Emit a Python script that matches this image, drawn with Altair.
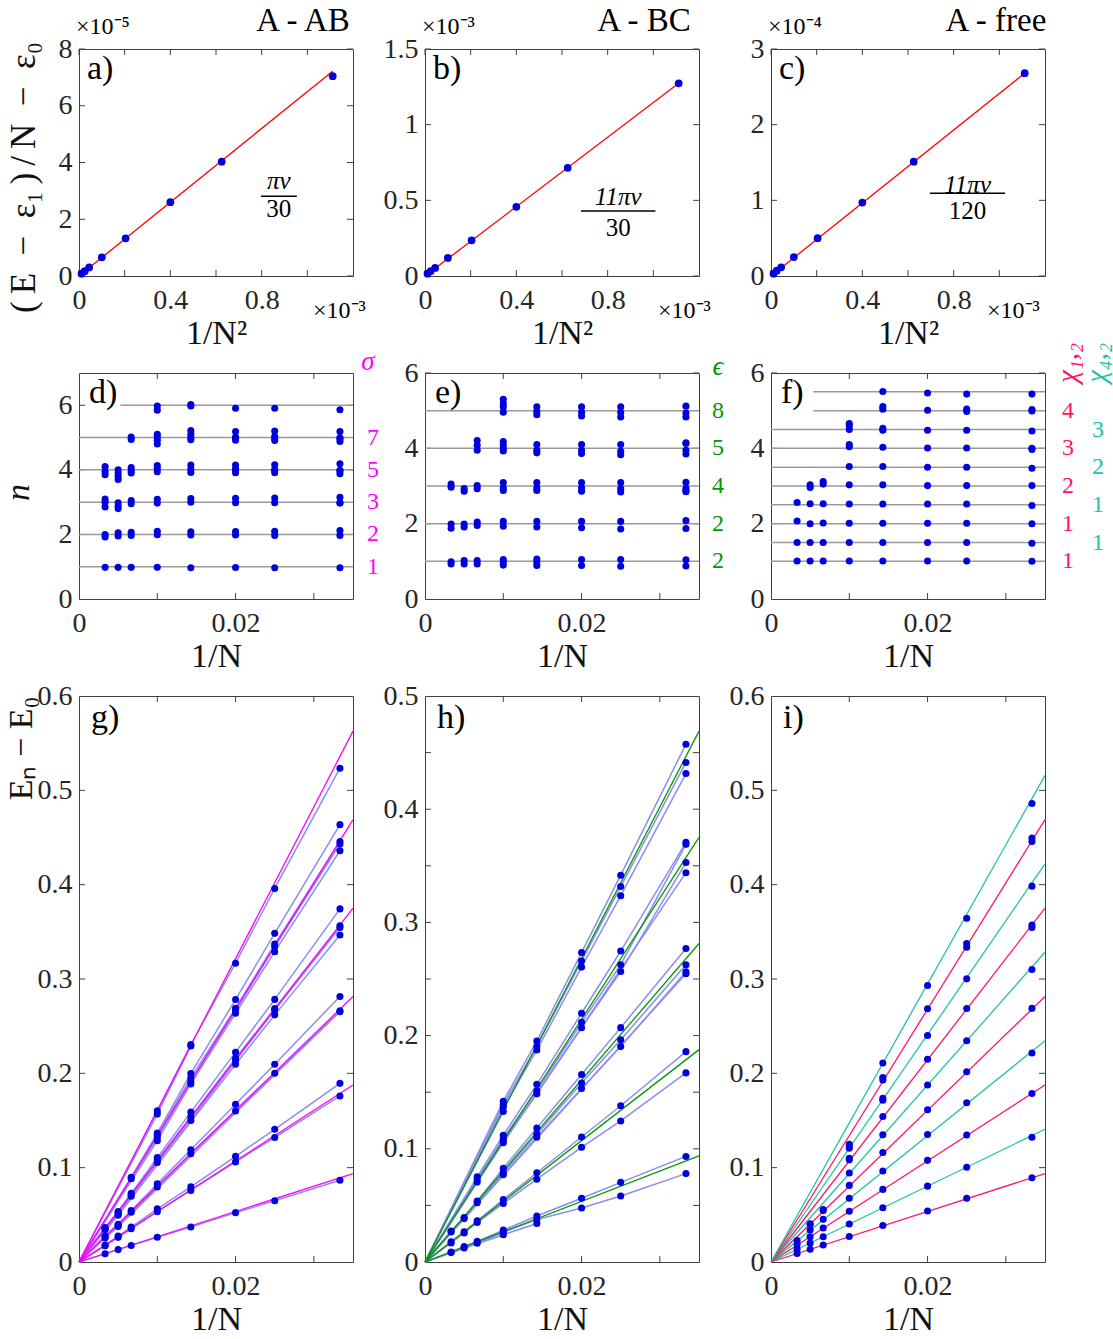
import altair as alt
import pandas as pd

FONT = "Liberation Serif"
BLUE = "#0000DD"
LIGHT = "#8C8CF2"
RED = "#FF0000"
MAGENTA = "#FF00FF"
GREEN = "#009A00"
PINK = "#FF1463"
TEAL = "#20C4A0"
GRAY = "#9a9a9a"
AX = "#404040"

W = 274
H_TOP = 227
H_MID = 226
H_BOT = 566

# system sizes; x of middle/bottom rows is 1/N, top row is 1/N^2 (in units of 1e-3)
N_VALUES = [300, 200, 150, 100, 70, 50, 40, 30]

# ---- top row: (E - eps1)/N - eps0 ----
TOP_A_Y = [0.08, 0.17, 0.30, 0.66, 1.33, 2.60, 4.03, 7.04]      # x1e-5
TOP_A_FIT = [0.0, 7.22]
TOP_B_Y = [0.015, 0.033, 0.053, 0.119, 0.236, 0.457, 0.715, 1.273]  # x1e-3
TOP_B_FIT = [0.0, 1.273]
TOP_C_Y = [0.03, 0.07, 0.115, 0.25, 0.50, 0.97, 1.51, 2.68]     # x1e-4
TOP_C_FIT = [0.0, 2.68]
FIT_X = [0.0, 1.111]

# ---- middle row: n levels per N ----
D_N = {
    300: [0.98, 1.92, 2.00, 2.85, 3.00, 3.10, 3.85, 3.95, 4.10],
    200: [0.98, 1.95, 2.05, 2.80, 2.88, 2.98, 3.70, 3.80, 3.90, 4.00],
    150: [0.98, 1.97, 2.07, 2.95, 3.05, 3.90, 3.97, 4.07, 4.94, 5.02],
    100: [0.98, 1.99, 2.10, 2.97, 3.09, 3.94, 4.04, 4.13, 4.80, 4.92, 5.02, 5.10, 5.85, 5.98],
    70: [0.97, 1.98, 2.08, 3.00, 3.11, 3.92, 4.02, 4.15, 4.93, 5.00, 5.10, 5.22, 5.98, 6.02],
    50: [0.976, 1.98, 2.09, 2.985, 3.12, 3.91, 3.99, 4.03, 4.15, 4.92, 4.98, 5.02, 5.19, 5.91],
    40: [0.97, 1.97, 2.10, 2.985, 3.13, 3.91, 3.985, 4.01, 4.155, 4.91, 4.99, 5.03, 5.20, 5.91],
    30: [0.97, 1.97, 2.12, 2.97, 2.98, 3.15, 3.88, 3.97, 3.99, 4.19, 4.88, 4.96, 4.99, 5.19, 5.86],
}
E_N = {
    300: [0.93, 0.99, 1.88, 1.99, 2.97, 3.05],
    200: [0.93, 1.02, 1.91, 1.99, 2.86, 2.93],
    150: [0.93, 1.02, 1.95, 2.04, 2.93, 3.01, 3.95, 4.08, 4.21],
    100: [0.90, 0.98, 1.05, 1.93, 2.06, 2.88, 2.95, 3.09, 3.93, 3.99, 4.08, 4.18, 4.96, 5.10, 5.19, 5.30],
    70: [0.89, 0.98, 1.06, 1.91, 2.06, 2.88, 2.95, 3.09, 3.88, 3.95, 4.10, 4.89, 4.98, 5.10],
    50: [0.89, 1.05, 1.89, 2.06, 2.86, 2.95, 3.09, 3.86, 3.95, 4.10, 4.86, 4.96, 5.10],
    40: [0.87, 1.05, 1.86, 2.06, 2.84, 2.93, 3.09, 3.83, 3.92, 4.10, 4.83, 4.95, 5.10],
    30: [0.874, 1.044, 1.87, 2.08, 2.85, 2.87, 2.94, 3.10, 3.85, 3.95, 4.13, 4.15, 4.83, 4.94, 5.12],
}
F_N = {
    300: [1.01, 1.50, 2.07, 2.56],
    200: [1.01, 1.50, 2.00, 2.53, 2.96, 3.03],
    150: [1.01, 1.50, 2.02, 2.53, 3.05, 3.12],
    100: [1.01, 1.50, 2.01, 2.52, 3.03, 3.52, 4.04, 4.10, 4.50, 4.59, 4.66],
    70: [1.01, 1.50, 2.01, 2.52, 3.03, 3.52, 4.03, 4.48, 4.53, 5.04, 5.11, 5.51],
    50: [1.01, 1.50, 2.01, 2.52, 3.01, 3.50, 4.01, 4.48, 5.01, 5.47],
    40: [1.01, 1.50, 2.01, 2.52, 3.01, 3.50, 4.01, 4.48, 4.98, 5.04, 5.44],
    30: [1.00, 1.48, 2.00, 2.48, 3.01, 3.47, 3.97, 4.00, 4.46, 4.99, 5.03, 5.44],
}

# horizontal guide levels (middle row) and where each guide starts (1/N)
D_LEVELS = [1, 2, 3, 4, 5, 6]
D_START = [0, 0, 0, 0, 0, 0.0053]
E_LEVELS = [1, 2, 3, 4, 5]
E_START = [0, 0, 0, 0, 0]
F_LEVELS = [1, 1.5, 2, 2.5, 3, 3.5, 4, 4.5, 5, 5.5]
F_START = [0, 0, 0, 0, 0, 0, 0, 0, 0.0054, 0.0054]

# degeneracy labels at the right of the middle row
D_DEG = ["1", "2", "3", "5", "7"]
E_DEG = ["2", "2", "4", "5", "8"]
F_DEG_PINK = ["1", "1", "2", "3", "4"]
F_PINK_LEVELS = [1, 2, 3, 4, 5]
F_DEG_TEAL = ["1", "1", "2", "3"]
F_TEAL_LEVELS = [1.5, 2.5, 3.5, 4.5]

# slope of the n = 1 reference line in the bottom row: E = n * UNIT / N
UNIT = 2.68
G_LEVELS = [1, 2, 3, 4, 5, 6]
H_LEVELS = [1, 2, 3, 4, 5]
I_LEVELS = [1, 1.5, 2, 2.5, 3, 3.5, 4, 4.5, 5, 5.5]
X_END = 0.035


def txt(s, x, y, size, color="black", align="left", baseline="middle", angle=0, style="normal"):
    return alt.Chart(pd.DataFrame({"s": [s]})).mark_text(
        font=FONT, fontSize=size, color=color, align=align, baseline=baseline,
        angle=angle, fontStyle=style).encode(text="s:N", x=alt.value(x), y=alt.value(y))


class Panel:
    def __init__(self, xdom, ydom, xlabels, ylabels, xtitle, ytitle="", ytitle_kw=None):
        self.xs = alt.Scale(domain=xdom, nice=False)
        self.ys = alt.Scale(domain=ydom, nice=False)
        self.xa = alt.Axis(values=xlabels, format="~g", title=xtitle, labelFlush=False)
        if ytitle:
            self.ya = alt.Axis(values=ylabels, format="~g", title=ytitle, titleAngle=270,
                               titleAlign="center", titleBaseline="middle", **(ytitle_kw or {}))
        else:
            self.ya = alt.Axis(values=ylabels, format="~g", title="")

    def X(self, f):
        return alt.X(f, scale=self.xs, axis=self.xa)

    def Y(self, f):
        return alt.Y(f, scale=self.ys, axis=self.ya)

    def ticks(self, xticks, yticks, w, h):
        L = 6
        tx = pd.DataFrame({"t": xticks})
        ty = pd.DataFrame({"t": yticks})
        return [
            alt.Chart(tx).mark_rule(color=AX, strokeWidth=1).encode(
                x=self.X("t:Q"), y=alt.value(h), y2=alt.value(h - L)),
            alt.Chart(tx).mark_rule(color=AX, strokeWidth=1).encode(
                x=self.X("t:Q"), y=alt.value(0), y2=alt.value(L)),
            alt.Chart(ty).mark_rule(color=AX, strokeWidth=1).encode(
                y=self.Y("t:Q"), x=alt.value(0), x2=alt.value(L)),
            alt.Chart(ty).mark_rule(color=AX, strokeWidth=1).encode(
                y=self.Y("t:Q"), x=alt.value(w - L), x2=alt.value(w)),
        ]


# ---------------- top row ----------------
def top_panel(ys_vals, fit, ydom, ylabels, label, title, title_x, top_exp, num, den, frac,
              right_exp_x, ytitle=""):
    P = Panel([0, 1.2], ydom, [0, 0.4, 0.8], ylabels, "1/N²", ytitle,
              {"titleX": -56, "titleY": 128, "titleFontSize": 35})
    df = pd.DataFrame({"x": [1000 / n ** 2 for n in N_VALUES], "y": ys_vals})
    fitdf = pd.DataFrame({"x": FIT_X, "y": fit})
    fx, fy_num, fy_bar, fy_den, fx0, fx1 = frac
    layers = P.ticks([0, 0.2, 0.4, 0.6, 0.8, 1.0], ylabels, W, H_TOP)
    layers += [
        alt.Chart(fitdf).mark_line(color=RED, strokeWidth=1.3).encode(x=P.X("x:Q"), y=P.Y("y:Q")),
        alt.Chart(df).mark_circle(size=60, color=BLUE, opacity=1).encode(x=P.X("x:Q"), y=P.Y("y:Q")),
        alt.Chart(pd.DataFrame({"s": [num], "x": [fx], "y": [fy_num]})).mark_text(
            font=FONT, fontSize=25, fontStyle="italic", baseline="middle").encode(
            text="s:N", x=P.X("x:Q"), y=P.Y("y:Q")),
        alt.Chart(pd.DataFrame({"s": [den], "x": [fx], "y": [fy_den]})).mark_text(
            font=FONT, fontSize=25, baseline="middle").encode(
            text="s:N", x=P.X("x:Q"), y=P.Y("y:Q")),
        alt.Chart(pd.DataFrame({"x": [fx0], "x2": [fx1], "y": [fy_bar]})).mark_rule(
            color="black", strokeWidth=1.5).encode(x=P.X("x:Q"), x2="x2:Q", y=P.Y("y:Q")),
        txt(label, 8, 20, 34),
        txt(title, title_x, -28, 33, align="center"),
        txt(top_exp, -3, -22, 24),
        txt("×10⁻³", right_exp_x, 262, 24),
    ]
    return alt.layer(*layers).properties(width=W, height=H_TOP)


YTITLE_A = "(\u2009E\u2002−\u2002ε₁\u2009)\u2009/\u2009N\u2002−\u2002ε₀"
pa = top_panel(TOP_A_Y, TOP_A_FIT, [0, 8], [0, 2, 4, 6, 8], "a)", "A - AB", 224, "×10⁻⁵",
               "πv", "30", (0.875, 3.34, 2.81, 2.35, 0.797, 0.954), 234,
               ytitle=YTITLE_A)
pb = top_panel(TOP_B_Y, TOP_B_FIT, [0, 1.5], [0, 0.5, 1, 1.5], "b)", "A - BC", 219, "×10⁻³",
               "11πv", "30", (0.846, 0.522, 0.43, 0.317, 0.683, 1.009), 233)
pc = top_panel(TOP_C_Y, TOP_C_FIT, [0, 3], [0, 1, 2, 3], "c)", "A - free", 225, "×10⁻⁴",
               "11πv", "120", (0.861, 1.2, 1.093, 0.859, 0.696, 1.025), 216)


# ---------------- middle row ----------------
def mid_panel(ndict, levels, starts, ydom, label, right_layers, ytitle=""):
    P = Panel([0, X_END], ydom, [0, 0.02], [0, 2, 4, 6], "1/N", ytitle,
              {"titleX": -61, "titleY": 119, "titleFontStyle": "italic"})
    rows = [{"x": 1 / n, "y": v} for n in N_VALUES for v in ndict[n]]
    df = pd.DataFrame(rows)
    gl = pd.DataFrame({"x": starts, "x2": [X_END] * len(levels), "y": levels})
    layers = P.ticks([0.01, 0.02, 0.03], [2, 4, 6], W, H_MID)
    layers += [
        alt.Chart(gl).mark_rule(color=GRAY, strokeWidth=1.5).encode(
            x=P.X("x:Q"), x2="x2:Q", y=P.Y("y:Q")),
        alt.Chart(df).mark_circle(size=50, color=BLUE, opacity=1).encode(x=P.X("x:Q"), y=P.Y("y:Q")),
        txt(label, 10, 20, 34),
    ]
    layers += [f(P) for f in right_layers]
    return alt.layer(*layers).properties(width=W, height=H_MID)


def deg_labels(labels, levels, color, dx, size=24):
    def make(P):
        return alt.Chart(pd.DataFrame({"s": labels, "y": levels})).mark_text(
            font=FONT, fontSize=size, color=color, align="center", baseline="middle").encode(
            text="s:N", x=alt.value(W + dx), y=P.Y("y:Q"))
    return make


def fixed(s, x, y, size, color, angle=0, style="italic"):
    return lambda P: txt(s, x, y, size, color=color, align="center", angle=angle, style=style)


pd_ = mid_panel(D_N, D_LEVELS, D_START, [0, 7], "d)",
                [deg_labels(D_DEG, [1, 2, 3, 4, 5], MAGENTA, 20), fixed("σ", W + 15, -11, 27, MAGENTA)],
                ytitle="n")
pe = mid_panel(E_N, E_LEVELS, E_START, [0, 6], "e)",
               [deg_labels(E_DEG, [1, 2, 3, 4, 5], GREEN, 19), fixed("ϵ", W + 19, -6, 27, GREEN)])
pf = mid_panel(F_N, F_LEVELS, F_START, [0, 6], "f)",
               [deg_labels(F_DEG_PINK, F_PINK_LEVELS, PINK, 23),
                deg_labels(F_DEG_TEAL, F_TEAL_LEVELS, TEAL, 53),
                fixed("χ₁,₂", W + 23, -10, 29, PINK, angle=270),
                fixed("χ₄,₂", W + 52, -10, 29, TEAL, angle=270)])


# ---------------- bottom row ----------------
def light_lines(ndict, step):
    rows = []
    for n in N_VALUES:
        buckets = {}
        for v in sorted(ndict[n], reverse=True):
            lv = round(v / step) * step
            buckets.setdefault(lv, []).append(v)
        for lv, vs in buckets.items():
            for r, v in enumerate(vs):
                rows.append({"x": 1 / n, "E": v * UNIT / n, "g": f"{lv}_{r}"})
    df = pd.DataFrame(rows)
    origin = pd.DataFrame({"x": 0.0, "E": 0.0, "g": df["g"].unique()})
    return pd.concat([origin, df], ignore_index=True)


def bot_panel(ndict, levels, colors, ydom, ylabels, yticks, label, with_light, step, ytitle=""):
    P = Panel([0, X_END], ydom, [0, 0.02], ylabels, "1/N", ytitle, {"titleX": -58, "titleY": 52})
    dots = pd.DataFrame([{"x": 1 / n, "E": v * UNIT / n} for n in N_VALUES for v in ndict[n]])
    ref = pd.DataFrame(
        [{"x": 0.0, "E": 0.0, "g": str(k), "c": c} for k, c in zip(levels, colors)] +
        [{"x": X_END, "E": k * UNIT * X_END, "g": str(k), "c": c} for k, c in zip(levels, colors)])
    layers = P.ticks([0.01, 0.02, 0.03], yticks, W, H_BOT)
    if with_light:
        layers.append(alt.Chart(light_lines(ndict, step)).mark_line(color=LIGHT, strokeWidth=1.5).encode(
            x=P.X("x:Q"), y=P.Y("E:Q"), detail="g:N"))
    layers += [
        alt.Chart(ref).mark_line(strokeWidth=1.3).encode(
            x=P.X("x:Q"), y=P.Y("E:Q"), detail="g:N", color=alt.Color("c:N", scale=None)),
        alt.Chart(dots).mark_circle(size=50, color=BLUE, opacity=1).encode(x=P.X("x:Q"), y=P.Y("E:Q")),
        txt(label, 12, 22, 34),
    ]
    return alt.layer(*layers).properties(width=W, height=H_BOT)


G_Y = [0, 0.1, 0.2, 0.3, 0.4, 0.5, 0.6]
H_Y = [0, 0.1, 0.2, 0.3, 0.4, 0.5]
H_T = [0.05, 0.1, 0.15, 0.2, 0.25, 0.3, 0.35, 0.4, 0.45]
pg = bot_panel(D_N, G_LEVELS, [MAGENTA] * 6, [0, 0.6], G_Y, G_Y[1:-1], "g)", True, 1,
               ytitle="Eₙ − E₀")
ph = bot_panel(E_N, H_LEVELS, [GREEN] * 5, [0, 0.5], H_Y, H_T, "h)", True, 1)
pi = bot_panel(F_N, I_LEVELS, [PINK if k == int(k) else TEAL for k in I_LEVELS], [0, 0.6],
               G_Y, G_Y[1:-1], "i)", False, 0.5)

chart = alt.concat(pa, pb, pc, pd_, pe, pf, pg, ph, pi, columns=3,
                   spacing={"row": 97, "column": 72}, bounds="flush").properties(
    padding={"left": 0, "top": 4, "right": 0, "bottom": 0}
).configure_view(stroke=AX, strokeWidth=1).configure_axis(
    labelFont=FONT, titleFont=FONT, labelFontSize=28, titleFontSize=34,
    labelColor="#262626", titleColor="#111111", titleFontWeight="normal",
    ticks=False, domain=False, grid=False, labelOverlap=False
).configure_axisX(labelPadding=10, titlePadding=2).configure_axisY(labelPadding=7)

chart.save("out.html", embed_options={"renderer": "svg", "actions": False})
